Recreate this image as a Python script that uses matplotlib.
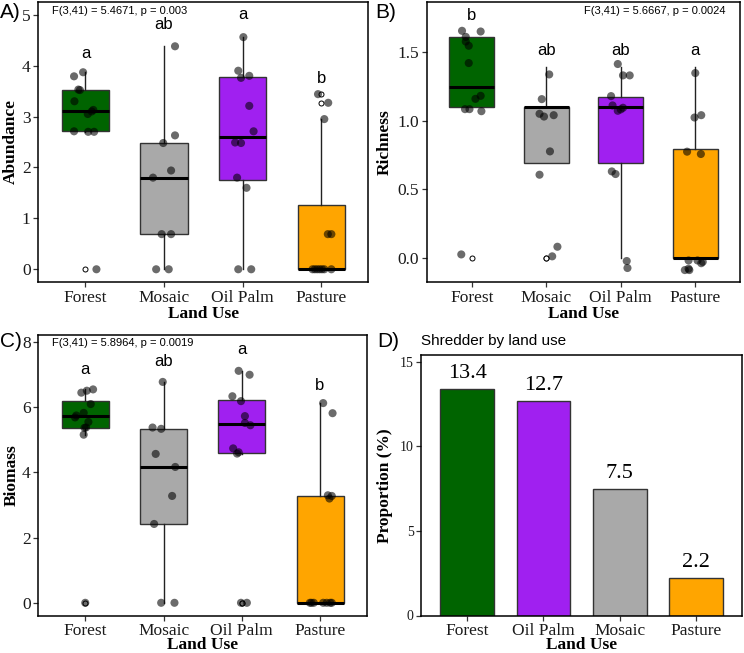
import matplotlib
matplotlib.use("Agg")
import matplotlib.pyplot as plt
import numpy as np

# ---------------- data ----------------
groups = ["Forest", "Mosaic", "Oil Palm", "Pasture"]
colors = ["#006400", "#A9A9A9", "#A020F0", "#FFA500"]

# Panel A: Abundance (value, jitter x offset)
abund_forest = [3.87, 3.79, 3.53, 3.52, 3.30, 3.13, 3.10, 3.05, 2.71, 2.70, 2.70, 0.00]
abund_forest_dx = [-0.03, -0.145, -0.09, -0.07, -0.14, 0.10, 0.08, 0.03, -0.145, 0.035, 0.11, 0.14]
abund_mosaic = [4.38, 2.63, 2.48, 1.94, 1.80, 0.69, 0.69, 0.00, 0.00]
abund_mosaic_dx = [0.14, 0.14, -0.01, 0.09, -0.14, -0.03, 0.09, -0.10, 0.06]
abund_oil = [4.56, 3.90, 3.80, 3.76, 3.21, 2.71, 2.49, 2.48, 1.80, 1.60, 0.00, 0.00]
abund_oil_dx = [0.01, -0.055, 0.085, -0.02, 0.085, 0.14, -0.095, -0.02, -0.07, 0.05, -0.055, 0.11]
abund_pasture = [3.44, 3.27, 2.95, 0.69, 0.69, 0, 0, 0, 0, 0, 0, 0]
abund_pasture_dx = [-0.04, 0.09, 0.04, 0.085, 0.13, -0.11, -0.08, -0.05, -0.02, 0.01, 0.04, 0.13]

# Panel B: Richness (value, jitter x offset, jitter y offset)
rich_forest = [0.00, 1.10, 1.10, 1.10, 1.10, 1.10, 1.39, 1.61, 1.61, 1.61, 1.61, 1.61]
rich_forest_dx = [-0.14, 0.12, 0.05, -0.09, -0.03, 0.13, -0.04, -0.13, 0.12, -0.08, -0.08, -0.04]
rich_forest_dy = [0.024, 0.08, 0.058, -0.017, -0.017, -0.032, 0.029, 0.044, 0.039, 0.0, -0.034, -0.065]
rich_mosaic = [0.00, 0.00, 0.69, 0.69, 1.10, 1.10, 1.10, 1.10, 1.39]
rich_mosaic_dx = [0.15, 0.08, 0.05, -0.09, -0.06, -0.09, -0.03, 0.10, 0.04]
rich_mosaic_dy = [0.08, 0.01, 0.085, -0.085, 0.056, -0.051, -0.071, -0.061, -0.054]
rich_oil = [0.00, 0.00, 0.69, 0.69, 1.10, 1.10, 1.10, 1.10, 1.10, 1.39, 1.39, 1.39]
rich_oil_dx = [0.08, 0.09, -0.12, -0.07, -0.13, -0.11, -0.04, 0.03, 0.0, -0.04, 0.03, 0.12]
rich_oil_dy = [-0.024, -0.075, -0.061, -0.08, 0.078, 0.01, -0.029, -0.007, -0.019, 0.022, -0.061, -0.061]
rich_pasture = [0, 0, 0, 0, 0, 0, 0, 0.69, 0.69, 1.10, 1.10, 1.39]
rich_pasture_dx = [-0.14, -0.09, -0.08, -0.09, 0.03, 0.08, 0.10, -0.11, 0.075, -0.01, 0.08, 0.0]
rich_pasture_dy = [-0.09, -0.08, -0.09, -0.02, -0.02, -0.04, -0.03, 0.083, 0.066, -0.078, -0.061, -0.044]

# Panel C: Biomass (value, jitter x offset)
bio_forest = [6.45, 6.51, 6.55, 6.10, 5.83, 5.75, 5.69, 5.55, 5.38, 5.37, 5.16, 0.00]
bio_forest_dx = [-0.05, 0.02, 0.10, 0.07, -0.02, -0.115, -0.13, 0.04, 0.01, -0.01, -0.02, 0.0]
bio_mosaic = [6.78, 5.38, 5.34, 4.57, 4.17, 3.28, 2.42, 0.00, 0.00]
bio_mosaic_dx = [-0.01, -0.14, -0.03, -0.10, 0.15, 0.11, -0.12, -0.03, 0.14]
bio_oil = [7.12, 7.00, 6.34, 6.19, 5.73, 5.52, 5.45, 4.74, 4.62, 4.58, 0.00, 0.00]
bio_oil_dx = [-0.04, 0.10, -0.12, -0.01, 0.04, 0.04, 0.11, -0.11, -0.04, -0.06, -0.01, 0.065]
bio_pasture = [6.13, 5.82, 3.30, 3.28, 3.20, 0, 0, 0, 0, 0, 0, 0]
bio_pasture_dx = [0.04, 0.16, 0.10, 0.15, 0.12, -0.13, -0.08, 0.04, 0.085, 0.13, 0.15, -0.11]

# Panel D: shredder proportion
d_groups = ["Forest", "Oil Palm", "Mosaic", "Pasture"]
d_values = [13.4, 12.7, 7.5, 2.2]
d_colors = ["#006400", "#A020F0", "#A9A9A9", "#FFA500"]

letters_A = ["a", "ab", "a", "b"]
letters_A_y = [4.24, 4.80, 5.00, 3.75]
letters_B = ["b", "ab", "ab", "a"]
letters_B_y = [1.767, 1.512, 1.512, 1.512]
letters_C = ["a", "ab", "a", "b"]
letters_C_y = [7.16, 7.42, 7.76, 6.67]

# ---------------- style ----------------
SERIF = "Liberation Serif"
SANS = "Liberation Sans"
W, H = 744, 653
fig = plt.figure(figsize=(W / 100, H / 100), dpi=100)


def rect(l, r, t, b):
    return [l / W, 1 - b / H, (r - l) / W, (b - t) / H]


def style_axes(ax, ylabel, ylab_x, xlab_y, ytick_size=12.5):
    for s in ax.spines.values():
        s.set_linewidth(1.1)
        s.set_color("black")
    ax.tick_params(axis="both", length=3.5, width=0.9, color="#333333",
                   labelcolor="#1a1a1a")
    ax.tick_params(axis="x", labelsize=12.5, pad=2)
    ax.tick_params(axis="y", labelsize=ytick_size, pad=2)
    for lab in ax.get_xticklabels() + ax.get_yticklabels():
        lab.set_fontfamily(SERIF)
    ax.set_xlabel("Land Use", fontfamily=SERIF, fontweight="bold", fontsize=12.5)
    ax.set_ylabel(ylabel, fontfamily=SERIF, fontweight="bold", fontsize=12.5)
    ax.yaxis.set_label_coords(ylab_x, 0.5)
    ax.xaxis.set_label_coords(0.5, xlab_y)


def box_panel(ax, data, dxs, dys, ylim, yticks, yticklabels, letters, letters_y):
    pos = np.arange(1, 5)
    bp = ax.boxplot(data, positions=pos, widths=0.6, patch_artist=True,
                    showcaps=False, whis=1.5,
                    boxprops=dict(linewidth=1.0, edgecolor="#333333"),
                    whiskerprops=dict(linewidth=1.0, color="#222222"),
                    medianprops=dict(linewidth=2.2, color="black"),
                    flierprops=dict(marker="o", markersize=3.6, markerfacecolor="white",
                                    markeredgecolor="black", markeredgewidth=0.7),
                    zorder=2)
    for patch, c in zip(bp["boxes"], colors):
        patch.set_facecolor(c)
    for i, (vals, dx, dy) in enumerate(zip(data, dxs, dys)):
        x = pos[i] + np.asarray(dx)
        y = np.asarray(vals) + (np.asarray(dy) if dy is not None else 0)
        ax.scatter(x, y, s=34, color="black", alpha=0.58, edgecolors="none", zorder=3)
    for i, (t, ty) in enumerate(zip(letters, letters_y)):
        ax.text(pos[i], ty, t, ha="center", va="center", fontsize=12,
                fontfamily=SANS, color="black", zorder=4)
    ax.set_xlim(0.4, 4.6)
    ax.set_ylim(*ylim)
    ax.set_xticks(pos)
    ax.set_xticklabels(groups)
    ax.set_yticks(yticks)
    ax.set_yticklabels(yticklabels)


# Panel A
axA = fig.add_axes(rect(38.3, 368.3, 2, 282))
box_panel(axA, [abund_forest, abund_mosaic, abund_oil, abund_pasture],
          [abund_forest_dx, abund_mosaic_dx, abund_oil_dx, abund_pasture_dx],
          [None] * 4, (-0.25, 5.25), [0, 1, 2, 3, 4, 5],
          ["0", "1", "2", "3", "4", "5"], letters_A, letters_A_y)
axA.text(0.575, 5.08, "F(3,41) = 5.4671, p = 0.003", ha="left", va="center",
         fontsize=8, fontfamily=SANS)
style_axes(axA, "Abundance", -0.058, -0.0875)

# Panel B
axB = fig.add_axes(rect(427, 740, 2, 282))
box_panel(axB, [rich_forest, rich_mosaic, rich_oil, rich_pasture],
          [rich_forest_dx, rich_mosaic_dx, rich_oil_dx, rich_pasture_dx],
          [rich_forest_dy, rich_mosaic_dy, rich_oil_dy, rich_pasture_dy],
          (-0.177, 1.864), [0, 0.5, 1.0, 1.5],
          ["0.0", "0.5", "1.0", "1.5"], letters_B, letters_B_y)
axB.text(4.41, 1.80, "F(3,41) = 5.6667, p = 0.0024", ha="right", va="center",
         fontsize=8, fontfamily=SANS)
style_axes(axB, "Richness", -0.110, -0.0875)

# Panel C
axC = fig.add_axes(rect(38.3, 367, 335, 615.5))
box_panel(axC, [bio_forest, bio_mosaic, bio_oil, bio_pasture],
          [bio_forest_dx, bio_mosaic_dx, bio_oil_dx, bio_pasture_dx],
          [None] * 4, (-0.39, 8.22), [0, 2, 4, 6, 8],
          ["0", "2", "4", "6", "8"], letters_C, letters_C_y)
axC.text(0.575, 7.98, "F(3,41) = 5.8964, p = 0.0019", ha="left", va="center",
         fontsize=8, fontfamily=SANS)
style_axes(axC, "Biomass", -0.058, -0.076)

# Panel D
axD = fig.add_axes(rect(421.3, 742, 355, 615.5))
xd = np.arange(1, 5)
axD.bar(xd, d_values, width=0.7, color=d_colors, edgecolor="#333333", linewidth=1.0)
for x, v in zip(xd, d_values):
    axD.text(x, v + 0.35, f"{v:.1f}", ha="center", va="bottom", fontsize=16,
             fontfamily=SERIF)
axD.set_xlim(0.4, 4.6)
axD.set_ylim(0, 15.41)
axD.set_xticks(xd)
axD.set_xticklabels(d_groups)
axD.set_yticks([0, 5, 10, 15])
axD.set_yticklabels(["0", "5", "10", "15"])
style_axes(axD, "Proportion (%)", -0.087, -0.082, ytick_size=10)
axD.text(0.0, 1 + 13.5 / 260.5, "Shredder by land use", transform=axD.transAxes,
         ha="left", va="center", fontsize=11, fontfamily=SANS)

# Panel labels
for lab, x, y in [("A)", 0, 12), ("B)", 375, 12), ("C)", 0, 342), ("D)", 377, 342)]:
    fig.text(x / W, 1 - y / H, lab, ha="left", va="center", fontsize=15,
             fontfamily=SANS)

fig.savefig("out.png", dpi=100)
